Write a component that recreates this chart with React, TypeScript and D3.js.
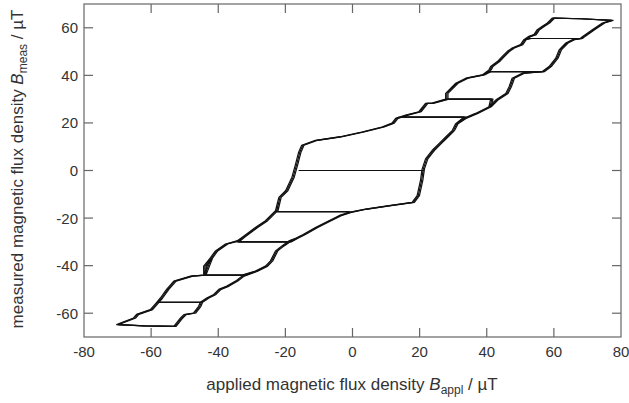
import React, { useRef, useEffect } from 'react';
import * as d3 from 'd3';

// upper branch (field decreasing), sorted by applied field
const upperX = [-69.9, -68.8, -64.9, -64, -59.9, -58, -56.9, -55, -52.9, -47.9, -44, -44, -42, -40.5, -37.5, -34.1, -32.6,
  -30.6, -28.6, -25.6, -22.6, -21.6, -19.6, -17.7, -16.6, -15.7, -14.8, -10.7, -3.7, 3.1, 9.1, 12.1, 13.2, 16.2, 20.1,
  22.1, 24, 28.1, 28.1, 31.1, 34.1, 39, 41, 41.5, 43.5, 44.9, 46.4, 47.9, 50.4, 51.4, 52.9, 54.4, 55.4, 56.9, 58.4,
  59.9, 68, 77.3];
const upperY = [-64.8, -64.1, -62, -60.5, -58.5, -55.4, -53.6, -49.9, -46.5, -44.4, -44, -40.2, -36.7, -33.8, -30.9, -29.6, -28.2,
  -26.1, -24, -21.1, -16.9, -11.3, -8.5, -2.8, 2.8, 7.7, 10.6, 12.7, 14.1, 16.2, 18.3, 19.9, 21.9, 23.3, 24.7,
  28.2, 28.3, 29.9, 32.4, 36.7, 38.8, 40.2, 42.3, 43.7, 45.8, 47.9, 50, 51.5, 52.9, 55, 56.4, 57.1, 59.2, 60.6, 62,
  64.1, 63.8, 63.1];

// lower branch (field increasing), sorted by applied field
const lowerX = [-69.9, -62, -52.9, -50.9, -49.9, -47, -45.5, -45, -43.1, -41, -39.5, -37.1, -34.5, -32.6, -28.6, -25.6,
  -24.1, -22.6, -20.7, -18.6, -16.6, -14.5, -10.7, -6.7, -3.7, -0.7, 4.2, 11.2, 18.1, 19.6, 20.6, 21.1, 22.1, 24.1,
  26.1, 28.1, 30.1, 31.1, 33.5, 37, 41, 43, 46, 47, 47.9, 50.9, 56.9, 58.9, 60.9, 61.9, 63.9, 65.8, 68.3, 71.8,
  74.8, 77.3];
const lowerY = [-64.8, -65.3, -65.5, -62, -60.6, -59.9, -57.1, -55.4, -53.6, -52.1, -50, -48.6, -46.5, -44.4, -42.3, -40.2,
  -38, -33.8, -31.7, -29.6, -28.5, -27, -24, -21.1, -19, -17.6, -16.2, -14.8, -13.4, -10.6, -4.2, 0.7, 4.9, 8.5,
  11.3, 14.1, 16.9, 19.7, 21.9, 24, 26.8, 29.6, 32.4, 35.2, 38.8, 40.9, 41.6, 43.7, 47.2, 50.7, 53.6, 55, 55.7, 59.2,
  62, 63.1];

// plateaus after the positive reversals (B_meas, left end, right end)
const posY = [55.5, 41.6, 30, 22.4, 0];
const posXL = [52.9, 41, 28.1, 14, -15.7];
const posXR = [68.3, 56.9, 41.5, 33.5, 21];
// plateaus after the negative reversals
const negY = [-55.4, -44, -30, -17.3];
const negXL = [-58, -44, -34.1, -22.6];
const negXR = [-45, -32.6, -18.6, -1.6];

// the degaussing run was repeated, each run slightly shifted
const runShift = [0, 0.35, -0.35];

const xTicks = [-80, -60, -40, -20, 0, 20, 40, 60, 80];
const yTicks = [-60, -40, -20, 0, 20, 40, 60];

const Chart = ({ width = 629, height = 403 }) => {
  const ref = useRef(null);

  useEffect(() => {
    const svg = d3.select(ref.current);
    svg.selectAll('*').remove();

    const left = 84, right = 621, top = 4, bottom = 337;
    const x = d3.scaleLinear().domain([-80, 80]).range([left, right]);
    const y = d3.scaleLinear().domain([-70, 70]).range([bottom, top]);

    const U = upperX.map((v, i) => [v, upperY[i]]);
    const L = lowerX.map((v, i) => [v, lowerY[i]]);
    const between = (pts, a, b) => pts.filter(p => p[0] > Math.min(a, b) && p[0] < Math.max(a, b));

    // one full run: up to the tip, down the major loop, then shrinking minor loops
    const run = () => {
      const pts = L.filter(p => p[0] >= posXR[0]);
      pts.push(...U.slice(0, -1).reverse());
      let from = U[0][0];
      for (let k = 0; k < posY.length; k++) {
        pts.push(...between(L, from, posXR[k]));
        pts.push([posXR[k], posY[k]], [posXL[k], posY[k]]);
        if (k < negY.length) {
          pts.push(...between(U, negXL[k], posXL[k]).reverse());
          pts.push([negXL[k], negY[k]], [negXR[k], negY[k]]);
          from = negXR[k];
        }
      }
      return pts;
    };

    const line = d3.line().x(d => x(d[0])).y(d => y(d[1]));
    const base = run();

    svg.append('g')
      .selectAll('path')
      .data(runShift)
      .join('path')
      .attr('d', dx => line(base.map(p => [p[0] + dx, p[1]])))
      .attr('fill', 'none')
      .attr('stroke', '#111')
      .attr('stroke-width', 1.2)
      .attr('stroke-linejoin', 'round');

    const axisColor = '#666';
    const textColor = '#333';
    const tickLen = 9;

    svg.append('rect')
      .attr('x', left).attr('y', top)
      .attr('width', right - left).attr('height', bottom - top)
      .attr('fill', 'none').attr('stroke', axisColor).attr('stroke-width', 1.2);

    const g = svg.append('g').attr('stroke', axisColor).attr('stroke-width', 1.2);
    xTicks.slice(1, -1).forEach(t => {
      g.append('line').attr('x1', x(t)).attr('x2', x(t)).attr('y1', bottom).attr('y2', bottom - tickLen);
      g.append('line').attr('x1', x(t)).attr('x2', x(t)).attr('y1', top).attr('y2', top + tickLen);
    });
    yTicks.forEach(t => {
      g.append('line').attr('x1', left).attr('x2', left + tickLen).attr('y1', y(t)).attr('y2', y(t));
      g.append('line').attr('x1', right).attr('x2', right - tickLen).attr('y1', y(t)).attr('y2', y(t));
    });

    const font = 'Liberation Sans, Arial, sans-serif';
    svg.append('g')
      .selectAll('text')
      .data(xTicks)
      .join('text')
      .attr('x', d => x(d))
      .attr('y', 357)
      .attr('text-anchor', 'middle')
      .style('font-family', font)
      .style('font-size', '15px')
      .attr('fill', textColor)
      .text(d => d);

    svg.append('g')
      .selectAll('text')
      .data(yTicks)
      .join('text')
      .attr('x', 78)
      .attr('y', d => y(d) + 5.5)
      .attr('text-anchor', 'end')
      .style('font-family', font)
      .style('font-size', '15px')
      .attr('fill', textColor)
      .text(d => d);

    // Axis titles
    const xt = svg.append('text')
      .attr('x', 352)
      .attr('y', 390)
      .attr('text-anchor', 'middle')
      .style('font-family', font)
      .style('font-size', '17px')
      .attr('fill', textColor);
    xt.append('tspan').text('applied magnetic flux density ');
    xt.append('tspan').style('font-style', 'italic').text('B');
    xt.append('tspan').attr('dy', 4).style('font-size', '12px').text('appl');
    xt.append('tspan').attr('dy', -4).text(' / µT');

    const yt = svg.append('text')
      .attr('transform', 'translate(23,169) rotate(-90)')
      .attr('text-anchor', 'middle')
      .style('font-family', font)
      .style('font-size', '17px')
      .attr('fill', textColor);
    yt.append('tspan').text('measured magnetic flux density ');
    yt.append('tspan').style('font-style', 'italic').text('B');
    yt.append('tspan').attr('dy', 4).style('font-size', '12px').text('meas');
    yt.append('tspan').attr('dy', -4).text(' / µT');
  }, [width, height]);

  return <svg ref={ref} width={width} height={height} style={{ position: 'absolute', left: 0, top: 0, background: '#fff' }} />;
};

export default function App() {
  return <Chart />;
}
